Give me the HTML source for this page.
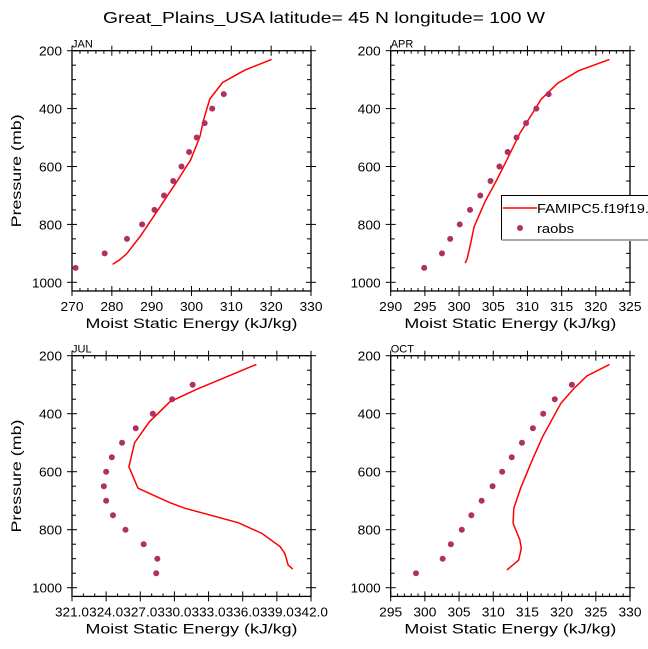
<!DOCTYPE html>
<html><head><meta charset="utf-8"><style>
html,body{margin:0;padding:0;background:#fff;}
svg{display:block;font-family:"Liberation Sans",sans-serif;}
</style></head><body>
<svg id="chart" width="648" height="649" viewBox="0 0 648 649" xmlns="http://www.w3.org/2000/svg">
<text x="324" y="23" text-anchor="middle" font-size="16" textLength="442" lengthAdjust="spacingAndGlyphs">Great_Plains_USA  latitude= 45 N longitude= 100 W</text>
</svg>
<script>
// JAN
const janModelMse=[280.2,281.9,283.7,287.2,291.3,296.3,299.8,302.1,303.0,304.6,307.8,313.4,320.1];
const janModelP=[938,923,902,840,756,652,577,497,440,367,310,267,230];
const janObsMse=[270.9,278.2,283.8,287.6,290.7,293.1,295.4,297.5,299.4,301.3,303.3,305.2,308.1];
const janObsP=[950,900,850,800,750,700,650,600,550,500,450,400,350];
// APR
const aprModelMse=[300.9,301.2,301.7,302.2,303.8,305.5,307.0,308.9,310.9,312.0,314.4,317.5,322.0];
const aprModelP=[934,917,865,808,721,647,577,485,410,368,313,269,230];
const aprObsMse=[294.9,297.5,298.7,300.1,301.6,303.1,304.6,305.9,307.1,308.4,309.8,311.3,313.1];
const aprObsP=[950,900,850,800,750,700,650,600,550,500,450,400,350];
// JUL
const julModelMse=[340.4,340.0,339.7,339.3,337.7,335.6,330.9,329.6,326.8,326.0,326.5,327.8,329.6,332.0,337.2];
const julModelP=[936,922,882,859,813,776,726,707,657,583,500,428,359,315,230];
const julObsMse=[328.4,328.5,327.3,325.7,324.6,324.0,323.8,324.0,324.5,325.4,326.6,328.1,329.8,331.6];
const julObsP=[950,900,850,800,750,700,650,600,550,500,450,400,350,300];
// OCT
const octModelMse=[312.0,313.7,314.1,313.9,312.9,313.0,314.0,315.7,317.2,319.9,321.8,323.7,327.0];
const octModelP=[939,905,865,836,778,726,657,560,480,364,313,270,230];
const octObsMse=[298.7,302.6,303.8,305.4,306.8,308.3,309.9,311.3,312.7,314.2,315.8,317.3,319.0,321.5];
const octObsP=[950,900,850,800,750,700,650,600,550,500,450,400,350,300];
// axes
const janXTicks=[270,280,290,300,310,320,330];
const aprXTicks=[290,295,300,305,310,315,320,325];
const julXTicks=[321,324,327,330,333,336,339,342];
const octXTicks=[295,300,305,310,315,320,325,330];
const pTicks=[200,400,600,800,1000];

const NS="http://www.w3.org/2000/svg";
const svg=document.getElementById('chart');
function mk(tag,attrs,parent){const e=document.createElementNS(NS,tag);for(const k in attrs)e.setAttribute(k,attrs[k]);(parent||svg).appendChild(e);return e;}

function panel(name,x0,x1,y200,y1000,xTicks,xDec,xMinorN,mM,mP,oM,oP,showYLabel){
  const g=mk('g',{});
  
  
  const xmin=xTicks[0],xmax=xTicks[xTicks.length-1];
  const sx=v=>x0+(v-xmin)/(xmax-xmin)*(x1-x0);
  const sy=p=>y200+(p-200)/800*(y1000-y200);
  const yTop=sy(200),yBot=sy(1030);
  const fr=mk('rect',{x:x0,y:yTop,width:x1-x0,height:yBot-yTop,fill:'none',stroke:'#000','stroke-width':1.3},g);
  
  
  const lab=mk('text',{x:x0,y:yTop-3,'font-size':11},g);lab.textContent=name.toUpperCase();
  
  
  const step=xTicks[1]-xTicks[0];
  for(let i=0;i<xTicks.length;i++){
    const x=sx(xTicks[i]);
    mk('line',{x1:x,x2:x,y1:yBot+5,y2:yBot-5,stroke:'#000'},g);
    mk('line',{x1:x,x2:x,y1:yTop-5,y2:yTop+5,stroke:'#000'},g);
    const ta={x:x,y:yBot+20,'font-size':13,'text-anchor':'middle'};
    const s=xTicks[i].toFixed(xDec);
    ta.textLength=s.length>3?(xDec?34:30):23;
    ta.lengthAdjust='spacingAndGlyphs';
    const t=mk('text',ta,g);
    t.textContent=s;
    
    
    if(i<xTicks.length-1)for(let k=1;k<xMinorN;k++){
      const xm=sx(xTicks[i]+step*k/xMinorN);
      mk('line',{x1:xm,x2:xm,y1:yBot,y2:yBot-3,stroke:'#000'},g);
      mk('line',{x1:xm,x2:xm,y1:yTop,y2:yTop+3,stroke:'#000'},g);
    }
  }
  for(let p=200;p<=1000;p+=50){
    const y=sy(p);const major=(p%200===0);
    if(major){
      mk('line',{x1:x0-5,x2:x0+5,y1:y,y2:y,stroke:'#000'},g);
      mk('line',{x1:x1-5,x2:x1+5,y1:y,y2:y,stroke:'#000'},g);
    }else{
      mk('line',{x1:x0,x2:x0+4,y1:y,y2:y,stroke:'#000'},g);
      mk('line',{x1:x1-4,x2:x1,y1:y,y2:y,stroke:'#000'},g);
    }
  }
  pTicks.forEach(p=>{
    const s=String(p);
    const t=mk('text',{x:x0-10,y:sy(p)+5,'font-size':13,'text-anchor':'end',textLength:s.length>3?30:23,lengthAdjust:'spacingAndGlyphs'},g);
    t.textContent=s;
    
    
  });
  const xl=mk('text',{x:(x0+x1)/2,y:yBot+37,'font-size':14,'text-anchor':'middle',textLength:212,lengthAdjust:'spacingAndGlyphs'},g);
  xl.textContent='Moist Static Energy (kJ/kg)';
  
  
  if(showYLabel){
    const yl=mk('text',{x:0,y:0,'font-size':14,'text-anchor':'middle',textLength:113,lengthAdjust:'spacingAndGlyphs',transform:`translate(21,${(yTop+yBot)/2}) rotate(-90)`},g);
    yl.textContent='Pressure (mb)';
    
    
  }
  const pts=mM.map((v,i)=>sx(v).toFixed(1)+','+sy(mP[i]).toFixed(1)).join(' ');
  const pl=mk('polyline',{points:pts,fill:'none',stroke:'#ff0000','stroke-width':1.5},g);
  
  
  oM.forEach((v,i)=>{
    const c=mk('circle',{cx:sx(v),cy:sy(oP[i]),r:3,fill:'#b03060'},g);
    
    
  });
}
panel('jan',72,311,50.7,282.3,janXTicks,0,5,janModelMse,janModelP,janObsMse,janObsP,true);
panel('apr',390.7,630,50.7,282.3,aprXTicks,0,5,aprModelMse,aprModelP,aprObsMse,aprObsP,false);
panel('jul',72,311,355.7,587.7,julXTicks,1,3,julModelMse,julModelP,julObsMse,julObsP,true);
panel('oct',390.7,630,355.7,587.7,octXTicks,0,5,octModelMse,octModelP,octObsMse,octObsP,false);

const lg=mk('g',{});


mk('rect',{x:501.5,y:195.5,width:160,height:44,fill:'#fff',stroke:'#000','stroke-width':1},lg);
mk('line',{x1:501.5,x2:648,y1:240,y2:240,stroke:'#aaa','stroke-width':2},lg);
const l1=mk('line',{x1:503,x2:537,y1:208,y2:208,stroke:'#ff0000','stroke-width':1.5},lg);


const t1=mk('text',{x:537,y:213,'font-size':13,textLength:112,lengthAdjust:'spacingAndGlyphs'},lg);t1.textContent='FAMIPC5.f19f19.';
const c1=mk('circle',{cx:520,cy:228,r:3,fill:'#b03060'},lg);


const t2=mk('text',{x:537,y:233,'font-size':13,textLength:37,lengthAdjust:'spacingAndGlyphs'},lg);t2.textContent='raobs';
</script>
</body></html>
